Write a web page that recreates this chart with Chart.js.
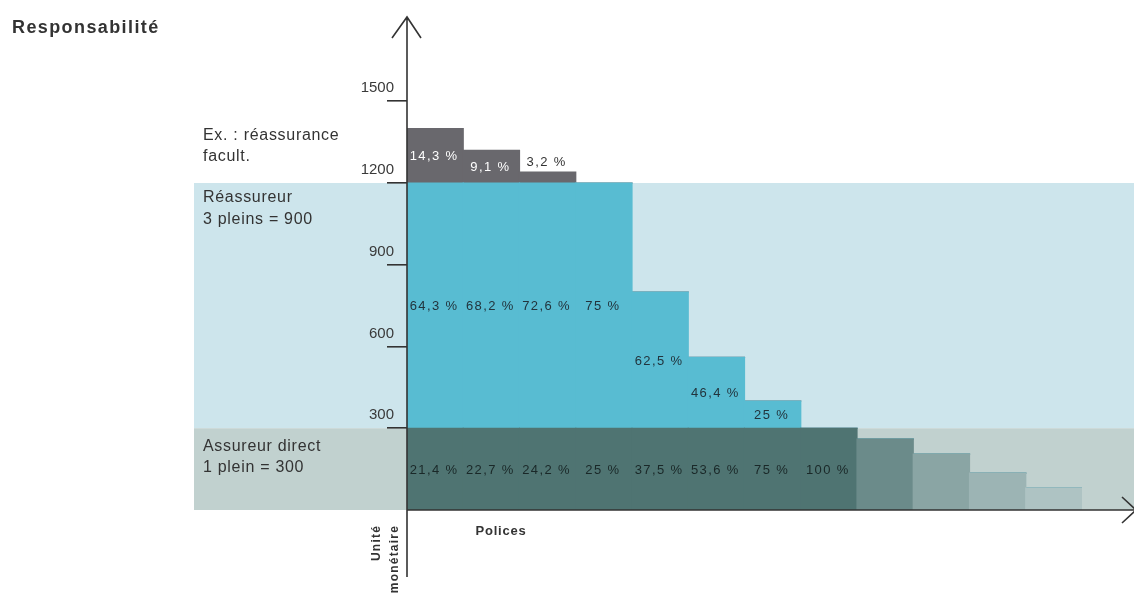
<!DOCTYPE html>
<html lang="fr">
<head>
<meta charset="utf-8">
<title>Responsabilité</title>
<script src="https://cdn.jsdelivr.net/npm/chart.js@4.4.0/dist/chart.umd.min.js"></script>
<style>
  html, body { margin: 0; padding: 0; background: #ffffff; }
  canvas { display: block; }
</style>
</head>
<body>
<canvas id="c" width="1134" height="593"></canvas>
<script>
// Polices (one bar each) and the share of the risk held by each party, in monetary units
const polices = ['1', '2', '3', '4', '5', '6', '7', '8', '9', '10', '11', '12'];
const assureurDirect = [300, 300, 300, 300, 300, 300, 300, 300, 260, 205, 135, 80];
const reassureur = [900, 900, 900, 900, 500, 260, 100, 0, 0, 0, 0, 0];
const reassuranceFacult = [200, 120, 40, 0, 0, 0, 0, 0, 0, 0, 0, 0];
const yTicks = [300, 600, 900, 1200, 1500];
const plein = 300;                 // retention of the direct insurer (1 plein)
const capaciteReassureur = 900;    // treaty capacity (3 pleins)

const FONT = "'Liberation Sans', Arial, Helvetica, sans-serif";
const INK = '#333333';

const directColors = ['#4f7472', '#4f7472', '#4f7472', '#4f7472', '#4f7472', '#4f7472', '#4f7472', '#4f7472',
                      '#6b8b8a', '#8aa5a4', '#9cb4b4', '#aec3c3'];

function pctLabel(v, total) {
  const p = v / total * 100;
  return p.toFixed(1).replace('.', ',').replace(/,0$/, '') + ' %';
}

function totals() {
  return polices.map((_, i) => assureurDirect[i] + reassureur[i] + reassuranceFacult[i]);
}

// Background bands, axes, captions and in-bar share labels
const decor = {
  id: 'decor',
  beforeDraw(chart) {
    const { ctx, scales: { y } } = chart;
    const W = chart.width;
    const y0 = y.getPixelForValue(0);
    const yP = y.getPixelForValue(plein);
    const yR = y.getPixelForValue(plein + capaciteReassureur);
    ctx.save();
    ctx.fillStyle = '#cde5ec';
    ctx.fillRect(194, yR, W - 194, yP - yR);
    ctx.fillStyle = '#c1d1cf';
    ctx.fillRect(194, yP, W - 194, y0 - yP);
    ctx.restore();
  },
  afterDatasetsDraw(chart) {
    const { ctx, scales: { y }, chartArea } = chart;
    const W = chart.width;
    const tot = totals();
    ctx.save();

    // share labels
    ctx.font = '13px ' + FONT;
    ctx.letterSpacing = '1.4px';
    ctx.textAlign = 'center';
    ctx.textBaseline = 'middle';
    chart.data.datasets.forEach((ds, di) => {
      const meta = chart.getDatasetMeta(di);
      meta.data.forEach((bar, i) => {
        const v = ds.data[i];
        if (!v) return;
        if (di === 0 && v < plein) return;
        const txt = pctLabel(v, tot[i]);
        const h = bar.base - bar.y;
        let ty = (bar.y + bar.base) / 2 + 1;
        let col = di === 0 ? '#1a2828' : (di === 1 ? '#22343d' : '#ffffff');
        if (h < 16) { ty = bar.y - 10; col = INK; }
        ctx.fillStyle = col;
        ctx.fillText(txt, bar.x - 1, ty);
      });
    });
    ctx.letterSpacing = '0px';

    // axes with arrow heads
    const ax = chartArea.left;
    const ay = y.getPixelForValue(0);
    ctx.strokeStyle = INK;
    ctx.lineWidth = 1.6;
    ctx.beginPath();
    ctx.moveTo(ax, 577); ctx.lineTo(ax, 17);
    ctx.moveTo(ax - 15, 38); ctx.lineTo(ax, 17); ctx.lineTo(ax + 14, 38);
    ctx.moveTo(ax, ay); ctx.lineTo(W, ay);
    ctx.moveTo(1122, ay - 13); ctx.lineTo(1136, ay); ctx.lineTo(1122, ay + 13);
    ctx.stroke();

    // band captions
    ctx.fillStyle = INK;
    ctx.textAlign = 'left';
    ctx.textBaseline = 'middle';
    ctx.font = '16px ' + FONT;
    ctx.letterSpacing = '0.7px';
    const yR = y.getPixelForValue(plein + capaciteReassureur);
    const yP = y.getPixelForValue(plein);
    ctx.fillText('Ex. : réassurance', 203, yR - 47);
    ctx.fillText('facult.', 203, yR - 26);
    ctx.fillText('Réassureur', 203, yR + 15);
    ctx.fillText('3 pleins = 900', 203, yR + 37);
    ctx.fillText('Assureur direct', 203, yP + 18);
    ctx.fillText('1 plein = 300', 203, yP + 39);

    // title
    ctx.font = 'bold 18px ' + FONT;
    ctx.letterSpacing = '1.4px';
    ctx.fillText('Responsabilité', 12, 28);

    // axis titles
    ctx.font = 'bold 13px ' + FONT;
    ctx.letterSpacing = '0.8px';
    ctx.textAlign = 'center';
    ctx.fillText('Polices', 501, 531);

    ctx.font = 'bold 12px ' + FONT;
    ctx.letterSpacing = '1.2px';
    ctx.save();
    ctx.translate(377, 525);
    ctx.rotate(-Math.PI / 2);
    ctx.textAlign = 'right';
    ctx.fillText('Unité', 0, 0);
    ctx.fillText('monétaire', 0, 18);
    ctx.restore();

    ctx.restore();
  }
};

const bar = (label, data, color) => ({
  label, data, backgroundColor: color, borderWidth: 0, inflateAmount: 0.6,
  barPercentage: 1, categoryPercentage: 1
});

new Chart(document.getElementById('c'), {
  type: 'bar',
  data: {
    labels: polices,
    datasets: [
      bar('Assureur direct', assureurDirect, directColors),
      bar('Réassureur', reassureur, '#58bcd2'),
      bar('Réassurance facultative', reassuranceFacult, '#69686d')
    ]
  },
  options: {
    responsive: false,
    animation: false,
    devicePixelRatio: 1,
    layout: { padding: { left: 0, right: 52, top: 19.5, bottom: 83 } },
    plugins: { legend: { display: false }, tooltip: { enabled: false } },
    scales: {
      x: { stacked: true, display: false },
      y: {
        stacked: true,
        min: 0,
        max: 1800,
        afterBuildTicks(scale) { scale.ticks = yTicks.map(v => ({ value: v })); },
        afterFit(scale) { scale.width = 407; },
        border: { display: false },
        grid: { drawOnChartArea: false, drawTicks: true, tickLength: 20, color: INK, lineWidth: 1.6 },
        ticks: {
          font: { family: FONT, size: 15 },
          color: '#3a3a3a',
          padding: -7,
          labelOffset: -13,
          callback: v => String(v)
        }
      }
    }
  },
  plugins: [decor]
});
</script>
</body>
</html>
